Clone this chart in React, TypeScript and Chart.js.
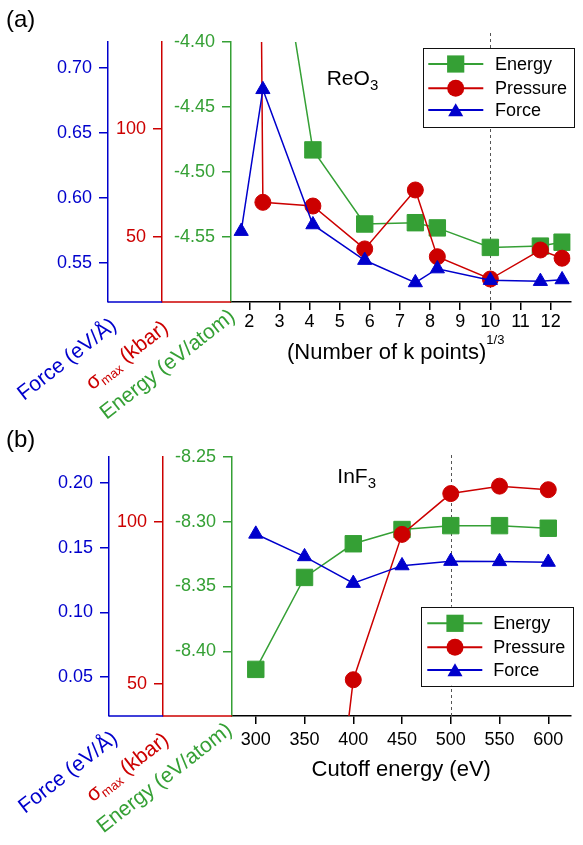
import React, { useEffect, useRef } from 'react';
import { Chart, registerables } from 'chart.js';

Chart.register(...registerables);

const FONT = '"Liberation Sans", Arial, Helvetica, sans-serif';
const GREEN = '#35a035';
const RED = '#cc0000';
const BLUE = '#0000cc';

// ---------- Panel (a): ReO3, k-point convergence ----------
const kPointsX = [1.73, 2.45, 4.11, 5.83, 7.51, 8.24, 10.0, 11.66, 12.38];
const reo3Energy = [-4.1, -4.243, -4.483, -4.54, -4.539, -4.543, -4.558, -4.557, -4.554];
const reo3Pressure = [1300, 66.0, 64.3, 44.5, 71.7, 40.9, 30.6, 44.0, 40.2];
const reo3Force = [0.5744, 0.6835, 0.5795, 0.5521, 0.5349, 0.5456, 0.5367, 0.5359, 0.5372];
const kTicks = [2, 3, 4, 5, 6, 7, 8, 9, 10, 11, 12];
const reo3EnergyTicks = [-4.55, -4.5, -4.45, -4.4];
const reo3PressureTicks = [50, 100];
const reo3ForceTicks = [0.55, 0.6, 0.65, 0.7];

// ---------- Panel (b): InF3, cutoff-energy convergence ----------
const cutoffX = [300, 350, 400, 450, 500, 550, 600];
const inf3Energy = [-8.414, -8.343, -8.317, -8.306, -8.303, -8.303, -8.305];
const inf3PressureX = [350, 400, 450, 500, 550, 600];
const inf3Pressure = [-75, 51.2, 96.1, 108.7, 111.0, 109.9];
const inf3Force = [0.1605, 0.1431, 0.1225, 0.1361, 0.1395, 0.1393, 0.1388];
const cutoffTicks = [300, 350, 400, 450, 500, 550, 600];
const inf3EnergyTicks = [-8.4, -8.35, -8.3, -8.25];
const inf3PressureTicks = [50, 100];
const inf3ForceTicks = [0.05, 0.1, 0.15, 0.2];

const legendLabels = ['Energy', 'Pressure', 'Force'];

type Part = { text: string; size: number; color: string; dy?: number };

function drawMarker(ctx: CanvasRenderingContext2D, style: string, x: number, y: number, color: string) {
  ctx.fillStyle = color;
  ctx.beginPath();
  if (style === 'rect') {
    const s = 8.6;
    ctx.rect(x - s, y - s, 2 * s, 2 * s);
  } else if (style === 'circle') {
    ctx.arc(x, y, 8.5, 0, Math.PI * 2);
  } else {
    const r = 8.7;
    const yy = y + 2;
    ctx.moveTo(x, yy - r);
    ctx.lineTo(x + r * 0.866, yy + r * 0.5);
    ctx.lineTo(x - r * 0.866, yy + r * 0.5);
    ctx.closePath();
  }
  ctx.fill();
}

function drawParts(
  ctx: CanvasRenderingContext2D,
  parts: Part[],
  x: number,
  y: number,
  angleDeg: number,
  align: 'left' | 'center',
  baseShift = 0
) {
  ctx.save();
  ctx.translate(x, y);
  ctx.rotate((-angleDeg * Math.PI) / 180);
  ctx.textBaseline = 'alphabetic';
  ctx.textAlign = 'left';
  let total = 0;
  for (const p of parts) {
    ctx.font = `${p.size}px ${FONT}`;
    total += ctx.measureText(p.text).width;
  }
  let cx = align === 'center' ? -total / 2 : 0;
  for (const p of parts) {
    ctx.font = `${p.size}px ${FONT}`;
    ctx.fillStyle = p.color;
    ctx.fillText(p.text, cx, baseShift + (p.dy || 0));
    cx += ctx.measureText(p.text).width;
  }
  ctx.restore();
}

type Panel = {
  key: string;
  height: number;
  padTop: number;
  xHeight: number;
  xPad: number;
  xMin: number;
  xMax: number;
  xTicks: number[];
  widths: [number, number, number];
  energy: { x: number[]; y: number[]; min: number; max: number; ticks: number[] };
  pressure: { x: number[]; y: number[]; min: number; max: number; ticks: number[] };
  force: { x: number[]; y: number[]; min: number; max: number; ticks: number[] };
  dashX: number;
  dashTop: number;
  legend: { x: number; y: number; w: number; h: number; rows: number[]; l0: number; l1: number; mx: number; tx: number };
  label: string;
  compound: { main: string; sub: string; x: number; y: number };
  xTitle: (ctx: CanvasRenderingContext2D, ca: any) => void;
  titles: { force: [number, number]; sigma: [number, number]; energy: [number, number] };
};

function buildConfig(p: Panel): any {
  const ds = (label: string, xs: number[], ys: number[], axis: string, color: string, style: string, radius: number, order: number) => ({
    label,
    data: xs.map((x, i) => ({ x, y: ys[i] })),
    yAxisID: axis,
    borderColor: color,
    backgroundColor: color,
    pointBackgroundColor: color,
    pointBorderColor: color,
    pointBorderWidth: 1,
    pointStyle: style,
    pointRadius: radius,
    pointHoverRadius: radius,
    borderWidth: 1.5,
    tension: 0,
    clip: 0,
    order,
    fill: false,
  });
  const yAxis = (min: number, max: number, ticks: number[], color: string, weight: number, width: number, dec: number) => ({
    type: 'linear',
    position: 'left',
    min,
    max,
    weight,
    afterBuildTicks: (s: any) => {
      s.ticks = ticks.map((v) => ({ value: v }));
    },
    afterFit: (s: any) => {
      s.width = width;
    },
    ticks: {
      color,
      font: { family: FONT, size: 18 },
      padding: 7,
      callback: (v: any) => Number(v).toFixed(dec),
    },
    grid: { drawOnChartArea: false, drawTicks: true, tickLength: 9, color, lineWidth: 1.5 },
    border: { display: true, color, width: 1.5 },
  });

  const decor = {
    id: 'decor' + p.key,
    beforeDatasetsDraw(chart: any) {
      const ctx = chart.ctx as CanvasRenderingContext2D;
      const ca = chart.chartArea;
      const px = Math.round(chart.scales.x.getPixelForValue(p.dashX)) + 0.5;
      ctx.save();
      ctx.strokeStyle = '#555';
      ctx.lineWidth = 1;
      ctx.setLineDash([3, 3]);
      ctx.beginPath();
      ctx.moveTo(px, p.dashTop);
      ctx.lineTo(px, ca.bottom);
      ctx.stroke();
      ctx.restore();
    },
    afterDraw(chart: any) {
      const ctx = chart.ctx as CanvasRenderingContext2D;
      const ca = chart.chartArea;
      const sF = chart.scales.yF;
      const sP = chart.scales.yP;
      const sE = chart.scales.yE;
      const b = ca.bottom;
      ctx.save();
      // L-shaped feet of the offset axes
      ctx.lineWidth = 1.5;
      ctx.strokeStyle = BLUE;
      ctx.beginPath();
      ctx.moveTo(sF.right, b);
      ctx.lineTo(sP.right, b);
      ctx.stroke();
      ctx.strokeStyle = RED;
      ctx.beginPath();
      ctx.moveTo(sP.right, b);
      ctx.lineTo(sE.right, b);
      ctx.stroke();

      // legend
      const L = p.legend;
      ctx.fillStyle = '#fff';
      ctx.fillRect(L.x, L.y, L.w, L.h);
      ctx.strokeStyle = '#111';
      ctx.lineWidth = 1;
      ctx.strokeRect(Math.round(L.x) + 0.5, Math.round(L.y) + 0.5, Math.round(L.w), Math.round(L.h));
      const cols = [GREEN, RED, BLUE];
      const styles = ['rect', 'circle', 'triangle'];
      legendLabels.forEach((lab, i) => {
        const y = L.rows[i];
        ctx.strokeStyle = cols[i];
        ctx.lineWidth = 2;
        ctx.beginPath();
        ctx.moveTo(L.l0, y);
        ctx.lineTo(L.l1, y);
        ctx.stroke();
        drawMarker(ctx, styles[i], L.mx, y, cols[i]);
        ctx.fillStyle = '#000';
        ctx.font = `18px ${FONT}`;
        ctx.textAlign = 'left';
        ctx.textBaseline = 'middle';
        ctx.fillText(lab, L.tx, y + 1);
      });

      // panel label
      ctx.fillStyle = '#000';
      ctx.font = `24px ${FONT}`;
      ctx.textAlign = 'left';
      ctx.textBaseline = 'alphabetic';
      ctx.fillText(p.label, 6, 27);

      // compound name
      drawParts(
        ctx,
        [
          { text: p.compound.main, size: 21, color: '#000' },
          { text: p.compound.sub, size: 15, color: '#000', dy: 4.5 },
        ],
        p.compound.x,
        p.compound.y,
        0,
        'left'
      );

      // x title
      p.xTitle(ctx, ca);

      // rotated y titles (centred on their measured centres)
      const ang = 38;
      const fs = 21;
      const shift = 0.26 * fs;
      drawParts(ctx, [{ text: 'Force (eV/Å)', size: fs, color: BLUE }], p.titles.force[0], p.titles.force[1], ang, 'center', shift);
      drawParts(
        ctx,
        [
          { text: 'σ', size: fs, color: RED },
          { text: 'max', size: 13, color: RED, dy: 4 },
          { text: ' (kbar)', size: fs, color: RED },
        ],
        p.titles.sigma[0],
        p.titles.sigma[1],
        ang,
        'center',
        shift
      );
      drawParts(ctx, [{ text: 'Energy (eV/atom)', size: fs, color: GREEN }], p.titles.energy[0], p.titles.energy[1], ang, 'center', shift);
      ctx.restore();
    },
  };

  return {
    type: 'line',
    data: {
      datasets: [
        ds('Energy', p.energy.x, p.energy.y, 'yE', GREEN, 'rect', 11.6, 3),
        ds('Pressure', p.pressure.x, p.pressure.y, 'yP', RED, 'circle', 8, 2),
        ds('Force', p.force.x, p.force.y, 'yF', BLUE, 'triangle', 8.2, 1),
      ],
    },
    options: {
      animation: false,
      responsive: false,
      events: [],
      layout: { padding: { top: p.padTop, left: 0, right: 0, bottom: 0 } },
      plugins: { legend: { display: false }, tooltip: { enabled: false } },
      scales: {
        x: {
          type: 'linear',
          position: 'bottom',
          min: p.xMin,
          max: p.xMax,
          afterBuildTicks: (s: any) => {
            s.ticks = p.xTicks.map((v) => ({ value: v }));
          },
          afterFit: (s: any) => {
            s.height = p.xHeight;
          },
          ticks: {
            color: '#000',
            font: { family: FONT, size: 18 },
            padding: p.xPad,
            autoSkip: false,
            maxRotation: 0,
            minRotation: 0,
            callback: (v: any) => String(v),
          },
          grid: { drawOnChartArea: false, drawTicks: true, tickLength: 8, color: '#000', lineWidth: 1.5 },
          border: { display: true, color: '#000', width: 1.5 },
        },
        yE: yAxis(p.energy.min, p.energy.max, p.energy.ticks, GREEN, 0, p.widths[2], 2),
        yP: yAxis(p.pressure.min, p.pressure.max, p.pressure.ticks, RED, 1, p.widths[1], 0),
        yF: yAxis(p.force.min, p.force.max, p.force.ticks, BLUE, 2, p.widths[0], 2),
      },
    },
    plugins: [decor],
  };
}

const panelA: Panel = {
  key: 'a',
  height: 420,
  padTop: 42,
  xHeight: 118,
  xPad: 1.3,
  xMin: 1.392,
  xMax: 12.656,
  xTicks: kTicks,
  widths: [108, 54, 69],
  energy: { x: kPointsX, y: reo3Energy, min: -4.6, max: -4.4, ticks: reo3EnergyTicks },
  pressure: { x: kPointsX, y: reo3Pressure, min: 20, max: 140, ticks: reo3PressureTicks },
  force: { x: kPointsX, y: reo3Force, min: 0.52, max: 0.72, ticks: reo3ForceTicks },
  dashX: 10,
  dashTop: 33,
  legend: { x: 422.7, y: 48.3, w: 151.3, h: 79, rows: [64, 88.3, 110], l0: 428.3, l1: 483.3, mx: 455.7, tx: 495 },
  label: '(a)',
  compound: { main: 'ReO', sub: '3', x: 326.7, y: 85 },
  xTitle: (ctx) => {
    drawParts(
      ctx,
      [
        { text: '(Number of k points)', size: 22, color: '#000' },
        { text: '1/3', size: 13, color: '#000', dy: -15 },
      ],
      287,
      359,
      0,
      'left'
    );
  },
  titles: { force: [67.5, 360], sigma: [127.5, 356], energy: [168, 365] },
};

const panelB: Panel = {
  key: 'b',
  height: 425,
  padTop: 37,
  xHeight: 129,
  xPad: 5.5,
  xMin: 275.6,
  xMax: 622.7,
  xTicks: cutoffTicks,
  widths: [109, 54, 69],
  energy: { x: cutoffX, y: inf3Energy, min: -8.45, max: -8.25, ticks: inf3EnergyTicks },
  pressure: { x: inf3PressureX, y: inf3Pressure, min: 40, max: 120, ticks: inf3PressureTicks },
  force: { x: cutoffX, y: inf3Force, min: 0.02, max: 0.22, ticks: inf3ForceTicks },
  dashX: 500,
  dashTop: 35,
  legend: { x: 420.7, y: 186.7, w: 151.6, h: 79, rows: [203.3, 227.3, 250], l0: 427.3, l1: 482.3, mx: 455, tx: 493.3 },
  label: '(b)',
  compound: { main: 'InF', sub: '3', x: 337.3, y: 63.3 },
  xTitle: (ctx, ca) => {
    ctx.save();
    ctx.fillStyle = '#000';
    ctx.font = `22px ${FONT}`;
    ctx.textAlign = 'center';
    ctx.textBaseline = 'alphabetic';
    ctx.fillText('Cutoff energy (eV)', (ca.left + ca.right) / 2, 356);
    ctx.restore();
  },
  titles: { force: [68.5, 353], sigma: [128, 348], energy: [165, 358.5] },
};

function PanelChart({ panel, top }: { panel: Panel; top: number }) {
  const ref = useRef<HTMLCanvasElement>(null);
  useEffect(() => {
    const chart = new Chart(ref.current as HTMLCanvasElement, buildConfig(panel));
    return () => chart.destroy();
  }, [panel]);
  return (
    <canvas
      ref={ref}
      width={583}
      height={panel.height}
      style={{ position: 'absolute', left: 0, top, width: 583, height: panel.height, display: 'block' }}
    />
  );
}

export default function App() {
  return (
    <div style={{ position: 'absolute', left: 0, top: 0, width: 583, height: 845, background: '#fff', overflow: 'hidden' }}>
      <PanelChart panel={panelA} top={0} />
      <PanelChart panel={panelB} top={420} />
    </div>
  );
}
